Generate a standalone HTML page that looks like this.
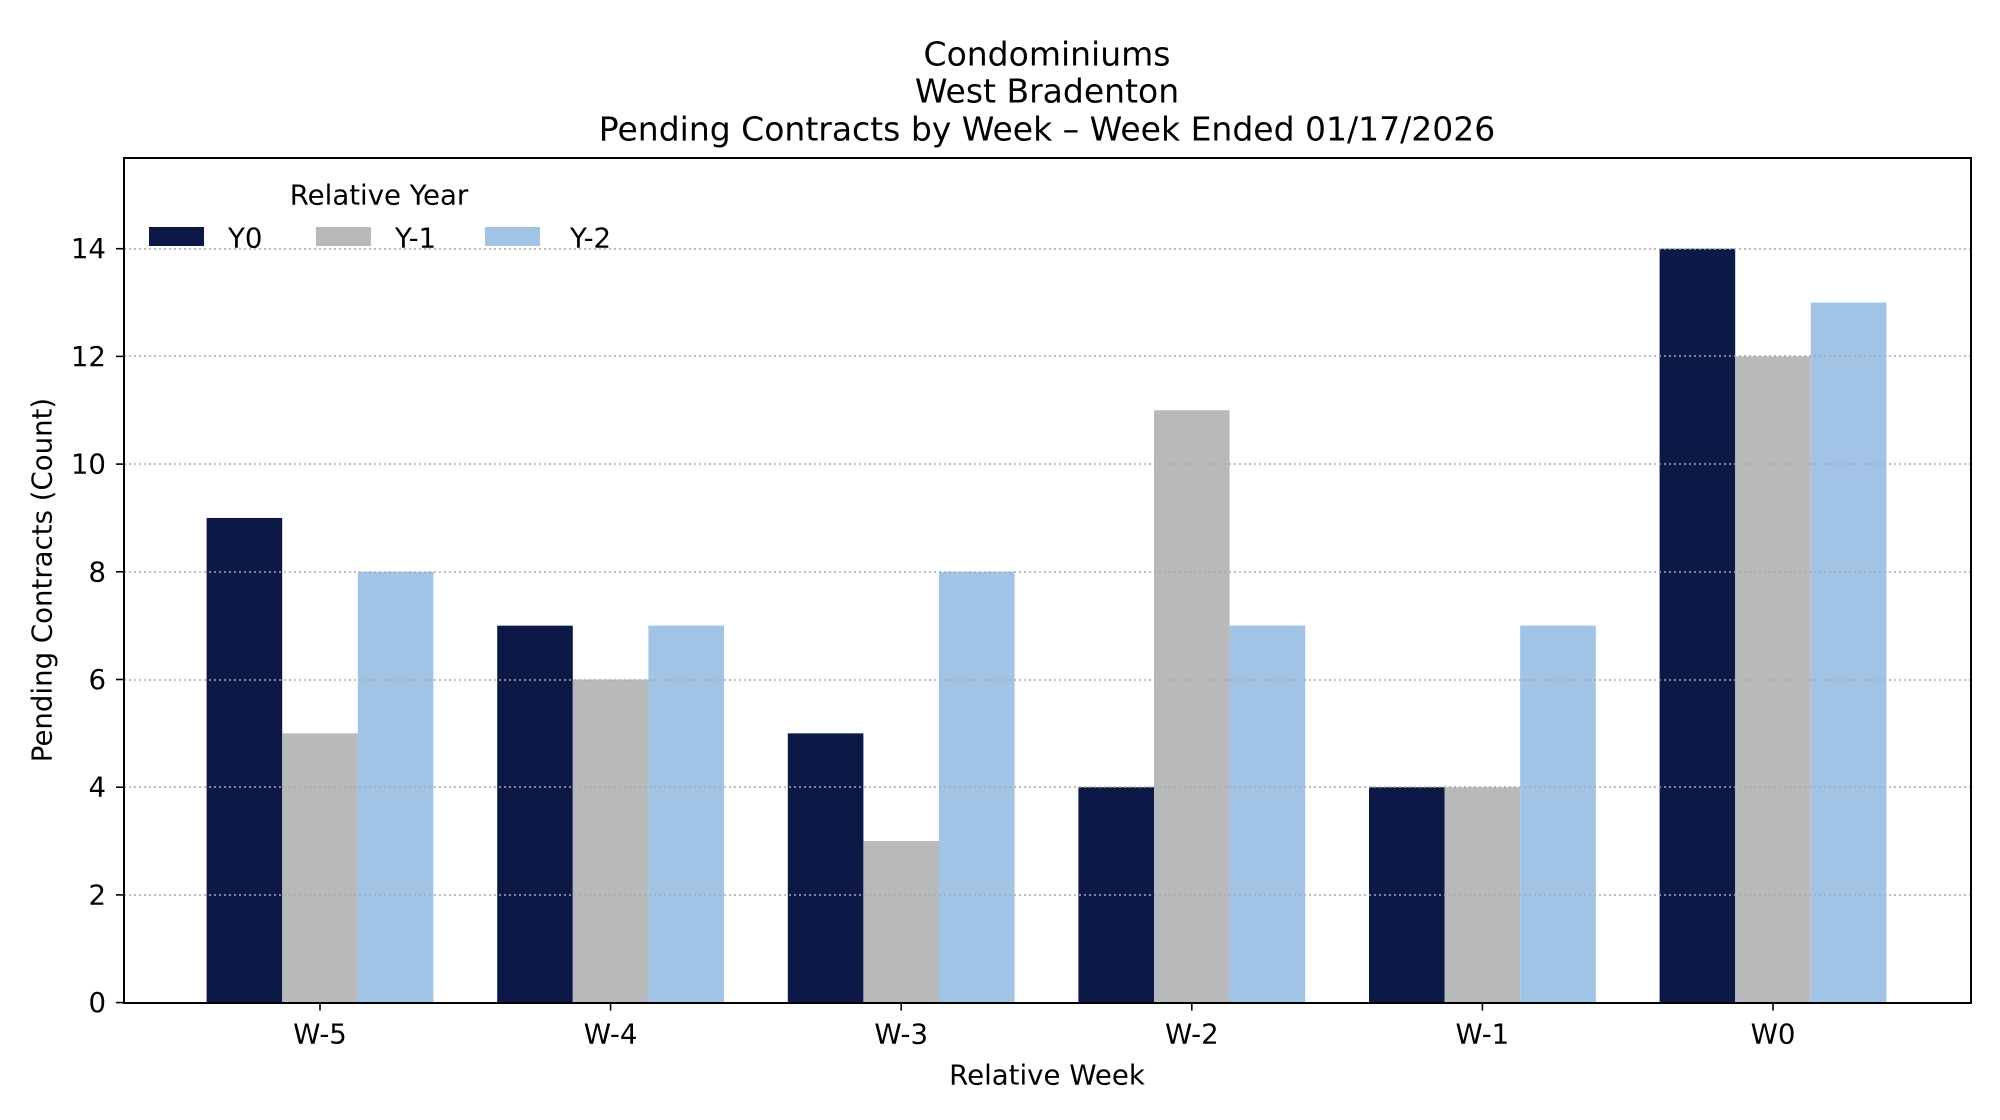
<!DOCTYPE html>
<html><head><meta charset="utf-8"><style>html,body{margin:0;padding:0;background:#fff}svg{display:block}text{font-family:"DejaVu Sans","Liberation Sans",sans-serif;fill:#000}</style></head>
<body>
<svg width="2000" height="1120" xmlns="http://www.w3.org/2000/svg">
<g font-size="33" text-anchor="middle" dominant-baseline="central">
<text x="1047" y="54">Condominiums</text>
<text x="1047" y="91">West Bradenton</text>
<text x="1047" y="129">Pending Contracts by Week – Week Ended 01/17/2026</text>
</g>
<g id="bars"></g>
<g stroke="#a8a8a8" stroke-width="1.6" stroke-dasharray="2,3">
<line x1="124" x2="1971" y1="895" y2="895"/>
<line x1="124" x2="1971" y1="787" y2="787"/>
<line x1="124" x2="1971" y1="680" y2="680"/>
<line x1="124" x2="1971" y1="572" y2="572"/>
<line x1="124" x2="1971" y1="464" y2="464"/>
<line x1="124" x2="1971" y1="356" y2="356"/>
<line x1="124" x2="1971" y1="249" y2="249"/>
</g>
<rect x="124" y="158" width="1847" height="845" fill="none" stroke="#000" stroke-width="2"/>
<g id="ticks" stroke="#000" stroke-width="1.6"></g>
<g id="labels" font-size="27.6"></g>
<text x="1047" y="1075" font-size="27.6" text-anchor="middle" dominant-baseline="central">Relative Week</text>
<text transform="translate(42,580) rotate(-90)" font-size="27.6" text-anchor="middle" dominant-baseline="central">Pending Contracts (Count)</text>
<text x="379" y="195" font-size="27.6" text-anchor="middle" dominant-baseline="central">Relative Year</text>
<rect x="149" y="227" width="55" height="19" fill="#0c1846"/>
<text x="228" y="238" font-size="27.6" dominant-baseline="central">Y0</text>
<rect x="316" y="227" width="55" height="19" fill="#b8b9ba"/>
<text x="395" y="238" font-size="27.6" dominant-baseline="central">Y-1</text>
<rect x="485" y="227" width="55" height="19" fill="#a0c3e6"/>
<text x="570" y="238" font-size="27.6" dominant-baseline="central">Y-2</text>
<script>
var ns="http://www.w3.org/2000/svg";
var d=[[9,7,5,4,4,14],[5,6,3,11,4,12],[8,7,8,7,7,13]];
var c=["#0c1846","#b8b9ba","#a0c3e6"];
var wk=["W-5","W-4","W-3","W-2","W-1","W0"];
var y0=1002.6,u=53.85,sp=290.6,cx0=320,bw=75.6;
var B=document.getElementById("bars"),T=document.getElementById("ticks"),L=document.getElementById("labels");
function el(p,t,a,tx){var e=document.createElementNS(ns,t);for(var k in a)e.setAttribute(k,a[k]);if(tx!=null)e.textContent=tx;p.appendChild(e);}
for(var g=0;g<6;g++){var cx=cx0+g*sp;
for(var s=0;s<3;s++){var x=cx+(s-1.5)*bw,h=d[s][g]*u;el(B,"rect",{x:x,y:y0-h,width:bw,height:h,fill:c[s]});}
el(T,"line",{x1:cx,x2:cx,y1:y0,y2:y0+8});
el(L,"text",{x:cx,y:1034,"text-anchor":"middle","dominant-baseline":"central"},wk[g]);}
for(var v=0;v<=14;v+=2){var y=y0-v*u;el(T,"line",{x1:116,x2:124,y1:y,y2:y});
el(L,"text",{x:106,y:y,"text-anchor":"end","dominant-baseline":"central"},String(v));}
</script>
</svg>
</body></html>
